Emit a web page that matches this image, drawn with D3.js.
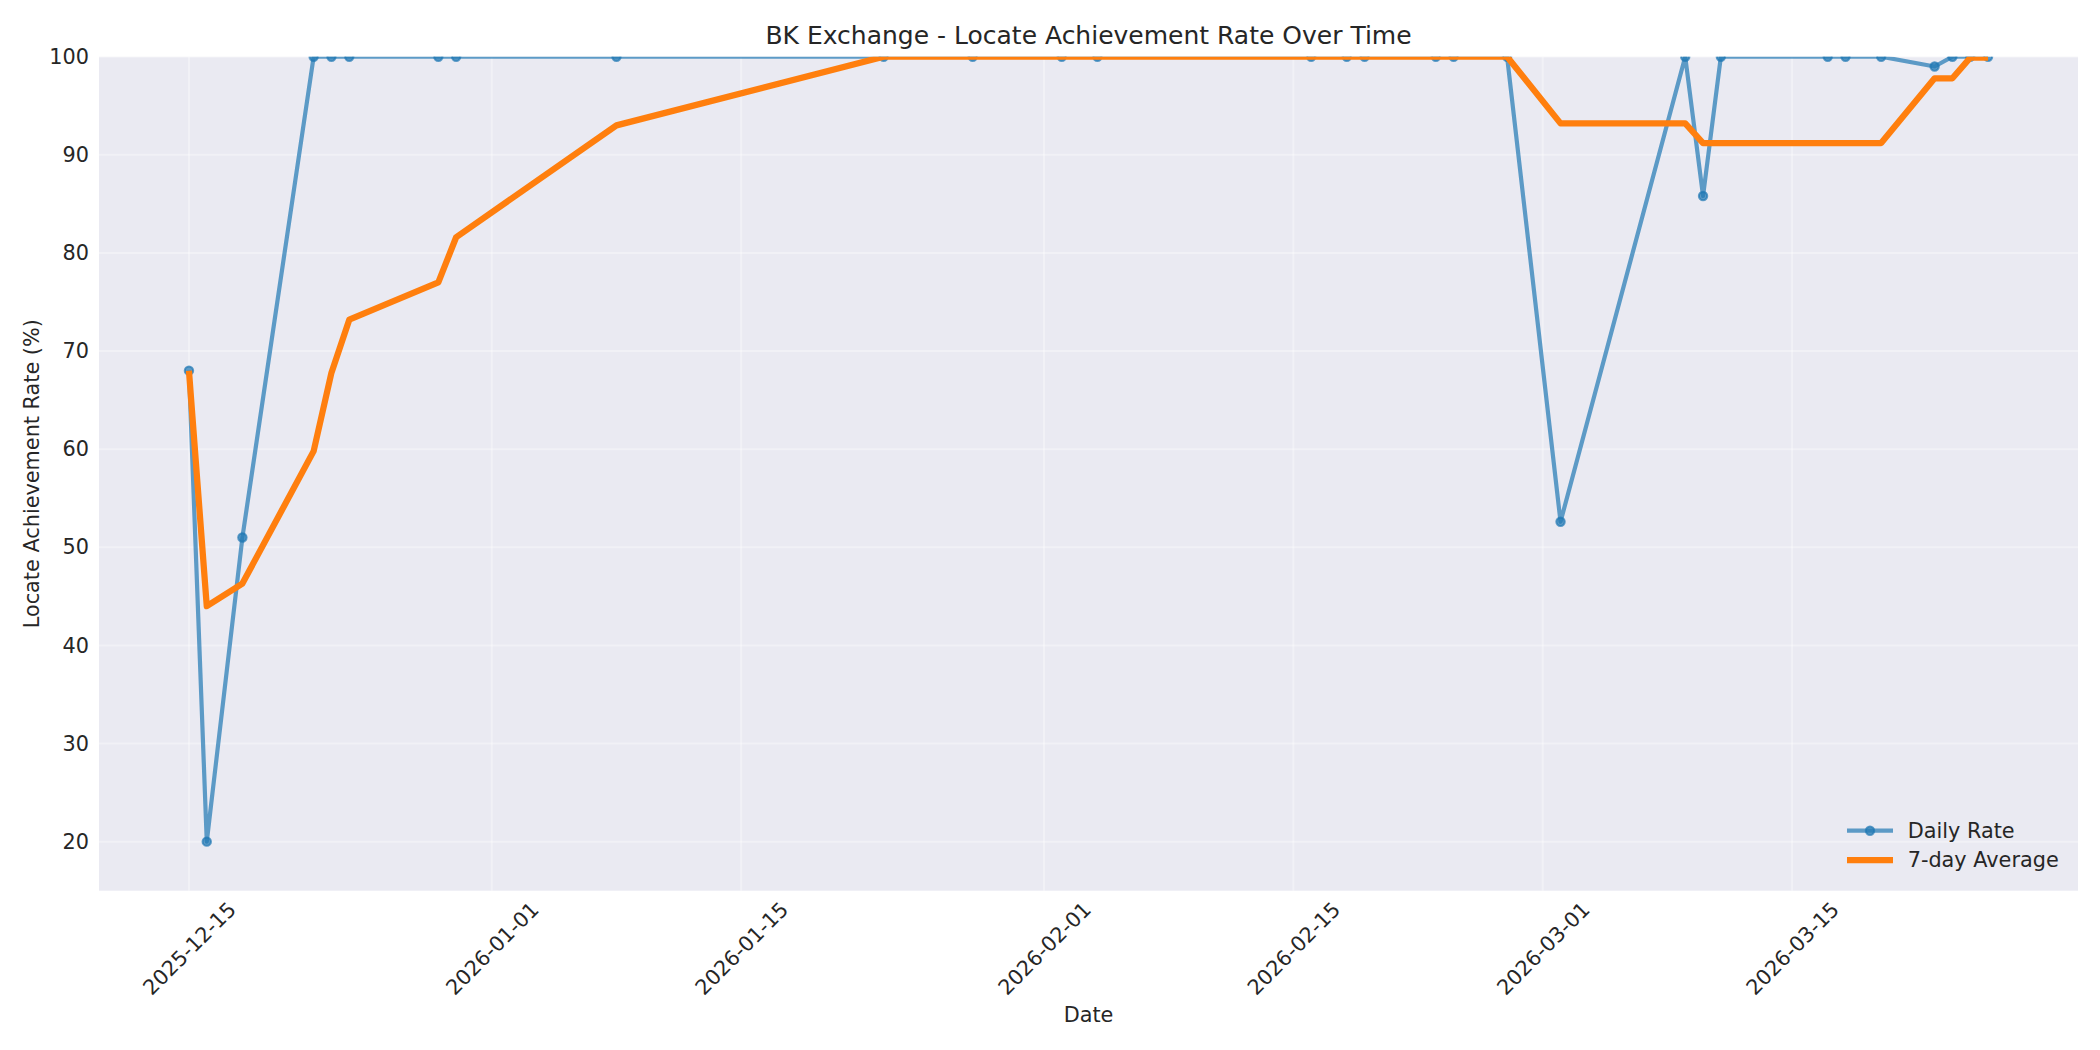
<!DOCTYPE html>
<html>
<head>
<meta charset="utf-8">
<script src="https://cdn.jsdelivr.net/npm/d3@7"></script>
<style>
  html, body { margin: 0; padding: 0; background: #ffffff; }
  svg { display: block; }
  text { font-family: "DejaVu Sans", sans-serif; fill: #262626; }
</style>
</head>
<body>
<svg id="chart" width="2100" height="1050"></svg>
<script>
// ---- Data ----
const dates = ["2025-12-15","2025-12-16","2025-12-18","2025-12-22","2025-12-23","2025-12-24",
  "2025-12-29","2025-12-30","2026-01-08","2026-01-23","2026-01-28","2026-02-02","2026-02-04",
  "2026-02-16","2026-02-18","2026-02-19","2026-02-23","2026-02-24","2026-02-27","2026-03-02",
  "2026-03-09","2026-03-10","2026-03-11","2026-03-17","2026-03-18","2026-03-20","2026-03-23",
  "2026-03-24","2026-03-25","2026-03-26"];
const dailyRate = [68, 20, 51, 100, 100, 100, 100, 100, 100, 100, 100, 100, 100,
  100, 100, 100, 100, 100, 100, 52.6, 100, 85.8, 100, 100, 100, 100, 99, 100, 100, 100];
const avg7 = [68, 44, 46.3, 59.8, 67.8, 73.2, 77, 81.6, 93, 100, 100, 100, 100,
  100, 100, 100, 100, 100, 100, 93.2, 93.2, 91.2, 91.2, 91.2, 91.2, 91.2, 97.8, 97.8, 99.9, 99.9];
const xTickLabels = ["2025-12-15","2026-01-01","2026-01-15","2026-02-01","2026-02-15","2026-03-01","2026-03-15"];
const yTicks = [20, 30, 40, 50, 60, 70, 80, 90, 100];
const seriesNames = ["Daily Rate", "7-day Average"];
const titleText = "BK Exchange - Locate Achievement Rate Over Time";
const xLabel = "Date";
const yLabel = "Locate Achievement Rate (%)";

// ---- Layout ----
const W = 2100, H = 1050;
const plot = { left: 99, right: 2078, top: 56.7, bottom: 890.7 };
const C = { blue: "#1f77b4", orange: "#ff7f0e", bg: "#EAEAF2", text: "#262626" };

const parse = d3.utcParse("%Y-%m-%d");
const fmt = d3.utcFormat("%Y-%m-%d");
const xs = dates.map(parse);
const t0 = xs[0].getTime(), t1 = xs[xs.length - 1].getTime();
const pad = (t1 - t0) * 0.05;

const x = d3.scaleUtc().domain([new Date(t0 - pad), new Date(t1 + pad)]).range([plot.left, plot.right]);
const y = d3.scaleLinear().domain([15, 100]).range([plot.bottom, plot.top]);

const svg = d3.select("#chart");
svg.append("rect").attr("width", W).attr("height", H).attr("fill", "#ffffff");

svg.append("defs").append("clipPath").attr("id", "clip")
  .append("rect").attr("x", plot.left).attr("y", plot.top)
  .attr("width", plot.right - plot.left).attr("height", plot.bottom - plot.top);

svg.append("rect").attr("x", plot.left).attr("y", plot.top)
  .attr("width", plot.right - plot.left).attr("height", plot.bottom - plot.top)
  .attr("fill", C.bg);

// ---- Grid ----
const grid = svg.append("g");
grid.selectAll("line.gy").data(yTicks).join("line")
  .attr("x1", plot.left).attr("x2", plot.right)
  .attr("y1", d => y(d)).attr("y2", d => y(d))
  .attr("stroke", "#ffffff").attr("stroke-opacity", 0.35).attr("stroke-width", 2);
grid.selectAll("line.gx").data(xTickLabels.map(parse)).join("line")
  .attr("x1", d => x(d)).attr("x2", d => x(d))
  .attr("y1", plot.top).attr("y2", plot.bottom)
  .attr("stroke", "#ffffff").attr("stroke-opacity", 0.35).attr("stroke-width", 2);

// ---- Axes ----
const xAxis = d3.axisBottom(x).tickValues(xTickLabels.map(parse)).tickFormat(fmt).tickSize(0).tickPadding(0);
const gx = svg.append("g").attr("transform", `translate(0,${plot.bottom})`).call(xAxis);
gx.select(".domain").remove();
gx.selectAll("text")
  .attr("font-size", "20.8px").attr("fill", C.text)
  .attr("font-family", "DejaVu Sans")
  .attr("text-anchor", "middle")
  .attr("dy", "0.35em")
  .attr("y", 0)
  .attr("transform", "translate(0,57.7) rotate(-45)");

const yAxis = d3.axisLeft(y).tickValues(yTicks).tickFormat(d3.format("d")).tickSize(0).tickPadding(10);
const gy = svg.append("g").attr("transform", `translate(${plot.left},0)`).call(yAxis);
gy.select(".domain").remove();
gy.selectAll("text").attr("font-size", "20.8px").attr("fill", C.text).attr("font-family", "DejaVu Sans");

// ---- Series ----
const data = xs.map((d, i) => ({ date: d, daily: dailyRate[i], avg: avg7[i] }));
const plotG = svg.append("g").attr("clip-path", "url(#clip)");

const lineDaily = d3.line().x(d => x(d.date)).y(d => y(d.daily));
const lineAvg = d3.line().x(d => x(d.date)).y(d => y(d.avg));

plotG.append("path").datum(data).attr("d", lineDaily)
  .attr("fill", "none").attr("stroke", C.blue).attr("stroke-opacity", 0.7)
  .attr("stroke-width", 4.2).attr("stroke-linejoin", "round").attr("stroke-linecap", "butt");

plotG.selectAll("circle.pt").data(data).join("circle")
  .attr("cx", d => x(d.date)).attr("cy", d => y(d.daily)).attr("r", 4.17)
  .attr("fill", C.blue).attr("fill-opacity", 0.7)
  .attr("stroke", C.blue).attr("stroke-opacity", 0.7).attr("stroke-width", 2.08);

plotG.append("path").datum(data).attr("d", lineAvg)
  .attr("fill", "none").attr("stroke", C.orange)
  .attr("stroke-width", 6.25).attr("stroke-linejoin", "round").attr("stroke-linecap", "butt");

// ---- Title & labels ----
svg.append("text").attr("x", (plot.left + plot.right) / 2).attr("y", 43.5)
  .attr("text-anchor", "middle").attr("font-size", "25px").text(titleText);
svg.append("text").attr("x", (plot.left + plot.right) / 2).attr("y", 1021.5)
  .attr("text-anchor", "middle").attr("font-size", "20.8px").text(xLabel);
svg.append("text")
  .attr("transform", `translate(38.5,${(plot.top + plot.bottom) / 2}) rotate(-90)`)
  .attr("text-anchor", "middle").attr("font-size", "20.8px").text(yLabel);

// ---- Legend ----
const leg = svg.append("g");
const legRows = [830.7, 860];
const lx0 = 1847, lx1 = 1893, ltx = 1907.7;
// Daily
leg.append("line").attr("x1", lx0).attr("x2", lx1).attr("y1", legRows[0]).attr("y2", legRows[0])
  .attr("stroke", C.blue).attr("stroke-opacity", 0.7).attr("stroke-width", 4.2);
leg.append("circle").attr("cx", (lx0 + lx1) / 2).attr("cy", legRows[0]).attr("r", 4.17)
  .attr("fill", C.blue).attr("fill-opacity", 0.7)
  .attr("stroke", C.blue).attr("stroke-opacity", 0.7).attr("stroke-width", 2.08);
// Avg
leg.append("line").attr("x1", lx0).attr("x2", lx1).attr("y1", legRows[1]).attr("y2", legRows[1])
  .attr("stroke", C.orange).attr("stroke-width", 6.25);
leg.selectAll("text.lt").data(seriesNames).join("text")
  .attr("x", ltx).attr("y", (d, i) => legRows[i]).attr("dy", "0.36em")
  .attr("font-size", "20.8px").text(d => d);
</script>
</body>
</html>
